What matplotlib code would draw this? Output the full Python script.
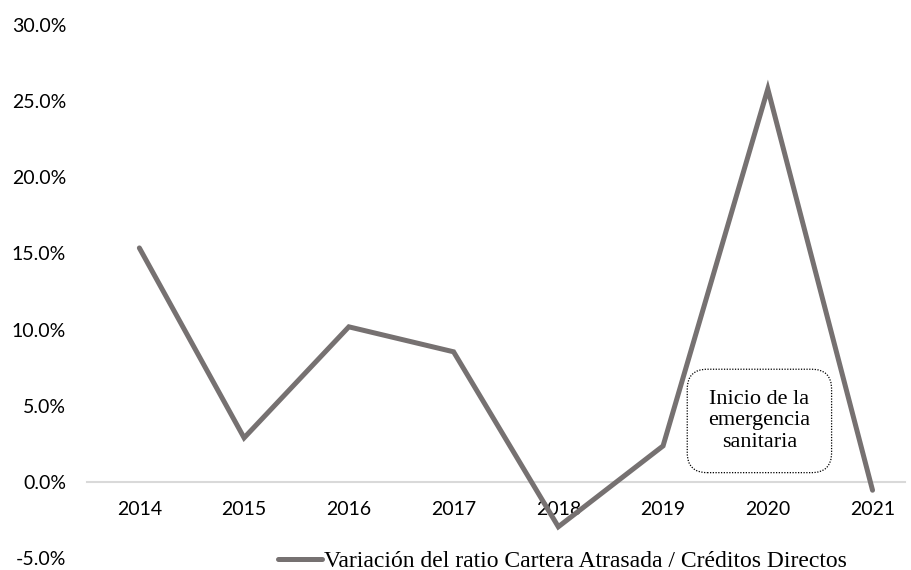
import matplotlib
matplotlib.use("Agg")
import matplotlib.pyplot as plt
from matplotlib.ticker import FuncFormatter

# data
years = ['2014', '2015', '2016', '2017', '2018', '2019', '2020', '2021']
variacion = [15.36, 2.89, 10.18, 8.54, -2.95, 2.36, 25.8, -0.55]
serie_label = 'Variación del ratio Cartera Atrasada / Créditos Directos'
nota = 'Inicio de la\nemergencia\nsanitaria'

W, H = 911, 570
fig = plt.figure(figsize=(W / 100, H / 100), dpi=100)
ax = fig.add_axes([87 / W, 12 / H, (905 - 87) / W, (558 - 25) / H])

x = list(range(len(years)))
line, = ax.plot(x, variacion, color='#767171', linewidth=3.6,
                solid_capstyle='round', solid_joinstyle='miter', label=serie_label)

ax.set_ylim(-5, 30)
ax.set_yticks([-5, 0, 5, 10, 15, 20, 25, 30])
ax.yaxis.set_major_formatter(FuncFormatter(lambda v, p: f'{v:.1f}%'))
ax.set_xlim(-0.5, 7.31)
ax.set_xticks(x)
ax.set_xticklabels(years)

for s in ['top', 'right', 'left']:
    ax.spines[s].set_visible(False)
ax.spines['bottom'].set_position(('data', 0))
ax.spines['bottom'].set_color('#d9d9d9')
ax.spines['bottom'].set_linewidth(1.5)
ax.spines['bottom'].set_zorder(0)

ax.tick_params(axis='both', length=0, labelsize=14, colors='#000000')
ax.tick_params(axis='y', pad=15)
ax.tick_params(axis='x', pad=14)
for lab in ax.get_xticklabels() + ax.get_yticklabels():
    lab.set_fontfamily('Lato')

# annotation box
ax.text(5.92, 4.0, nota, ha='center', va='center', fontsize=16,
        family='Liberation Serif', linespacing=1.15,
        bbox=dict(boxstyle='round,pad=0.95,rounding_size=0.9', fc='white',
                  ec='#000000', ls=(0, (1, 1.2)), lw=0.9), zorder=3)

fig.legend(handles=[line], loc='center', bbox_to_anchor=(562 / W, 1 - 561 / H),
           frameon=False, prop={'family': 'Liberation Serif', 'size': 17},
           handlelength=1.9, handletextpad=0.05, borderpad=0)

fig.savefig('out.png', dpi=100)
